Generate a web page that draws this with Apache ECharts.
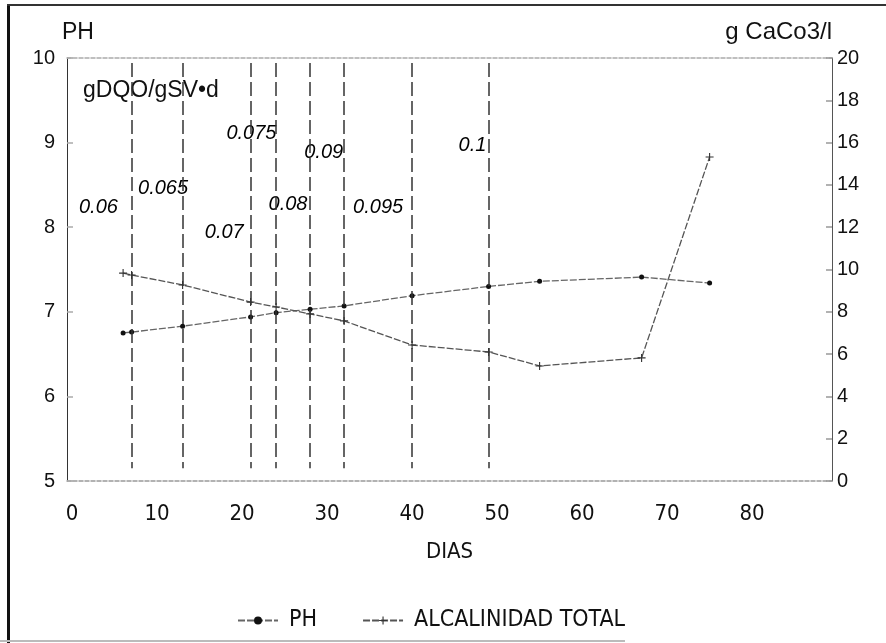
<!DOCTYPE html>
<html>
<head>
<meta charset="utf-8">
<title>PH y alcalinidad total</title>
<script src="https://cdn.jsdelivr.net/npm/echarts@6/dist/echarts.min.js"></script>
<style>
  html, body { margin: 0; padding: 0; background: #fff; }
  #chart { width: 886px; height: 643px; }
</style>
</head>
<body>
<div id="chart"></div>
<script>
// Días de muestreo y mediciones
const dias = [6, 7, 13, 21, 24, 28, 32, 40, 49, 55, 67, 75];
const ph = [6.75, 6.76, 6.83, 6.94, 6.99, 7.03, 7.07, 7.19, 7.30, 7.36, 7.41, 7.34];
const alcalinidad = [9.83, 9.74, 9.27, 8.46, 8.23, 7.90, 7.57, 6.43, 6.10, 5.44, 5.82, 15.32];

// Días en que cambia la carga orgánica (gDQO/gSV·d) y etiquetas de cada tramo
const cambiosCarga = [7, 13, 21, 24, 28, 32, 40, 49];
const cargas = ['0.06', '0.065', '0.07', '0.075', '0.08', '0.09', '0.095', '0.1'];
const cargaDia = [3.1, 10.7, 17.9, 21.1, 25.4, 29.6, 36.0, 47.1];
const cargaPH = [8.23, 8.46, 7.94, 9.11, 8.27, 8.88, 8.23, 8.97];

// Marcas del eje de días
const diasTicks = [0, 10, 20, 30, 40, 50, 60, 70, 80];

const SANS = "'Liberation Sans', Arial, Helvetica, sans-serif";
const NARROW = "'Liberation Sans Narrow', 'DejaVu Sans Condensed', 'Liberation Sans', sans-serif";
const PLUS = 'path://M-0.14,-1H0.14V-0.14H1V0.14H0.14V1H-0.14V0.14H-1V-0.14H-0.14Z';

const chart = echarts.init(document.getElementById('chart'), null, { renderer: 'canvas' });

chart.setOption({
  backgroundColor: '#ffffff',
  animation: false,
  grid: { left: 67, right: 54, top: 58, bottom: 162, containLabel: false },
  graphic: [
    { type: 'rect', shape: { x: 7, y: 4, width: 3, height: 639 }, style: { fill: '#111' }, silent: true },
    { type: 'rect', shape: { x: 7, y: 4, width: 879, height: 2 }, style: { fill: '#333' }, silent: true },
    { type: 'rect', shape: { x: 0, y: 640, width: 625, height: 2 }, style: { fill: '#bbb' }, silent: true },
    {
      type: 'text', left: 83, top: 79, silent: true,
      style: { text: 'gDQO/gSV\u2022d', font: '23px ' + SANS, fill: '#111' }
    }
  ],
  legend: {
    data: ['PH', 'ALCALINIDAD TOTAL'],
    left: 232,
    top: 604,
    itemWidth: 40,
    itemHeight: 10,
    itemGap: 45,
    textStyle: { fontFamily: NARROW, fontSize: 23, color: '#111', padding: [0, 0, 0, 6] }
  },
  xAxis: [
    {
      type: 'value',
      min: -0.6,
      max: 89.4,
      name: 'DIAS',
      nameLocation: 'middle',
      nameGap: 60,
      nameTextStyle: { fontFamily: NARROW, fontSize: 22, color: '#111' },
      axisLine: { show: true, onZero: false, lineStyle: { color: '#999', width: 1.5, type: [4, 2] } },
      axisTick: { show: false },
      axisLabel: {
        customValues: diasTicks,
        margin: 22,
        fontFamily: NARROW,
        fontSize: 22,
        color: '#111'
      },
      splitLine: { show: false }
    },
    {
      type: 'value',
      position: 'top',
      min: -0.6,
      max: 89.4,
      axisLine: { show: true, onZero: false, lineStyle: { color: '#aaa', width: 1.5, type: [4, 2] } },
      axisTick: { show: false },
      axisLabel: { show: false },
      splitLine: { show: false }
    }
  ],
  yAxis: [
    {
      type: 'value',
      min: 5,
      max: 10,
      interval: 1,
      name: 'PH',
      nameLocation: 'end',
      nameGap: 14,
      nameTextStyle: { fontFamily: SANS, fontSize: 23, color: '#111', align: 'left', padding: [0, 0, 0, -5] },
      axisLine: { show: true, onZero: false, lineStyle: { color: '#333', width: 1 } },
      axisTick: { show: true, inside: true, length: 6, lineStyle: { color: '#aaa', width: 1.5 } },
      axisLabel: { margin: 12, fontFamily: SANS, fontSize: 20, color: '#111' },
      splitLine: { show: false }
    },
    {
      type: 'value',
      min: 0,
      max: 20,
      interval: 2,
      position: 'right',
      name: 'g CaCo3/l',
      nameLocation: 'end',
      nameGap: 14,
      nameTextStyle: { fontFamily: SANS, fontSize: 24, color: '#111', align: 'right' },
      axisLine: { show: true, onZero: false, lineStyle: { color: '#555', width: 1 } },
      axisTick: { show: true, inside: true, length: 6, lineStyle: { color: '#999', width: 1.5 } },
      axisLabel: { margin: 5, fontFamily: SANS, fontSize: 20, color: '#111' },
      splitLine: { show: false }
    }
  ],
  series: [
    {
      name: 'PH',
      type: 'line',
      xAxisIndex: 0,
      yAxisIndex: 0,
      data: dias.map((d, i) => [d, ph[i]]),
      symbol: 'circle',
      symbolSize: 5,
      itemStyle: { color: '#111' },
      lineStyle: { color: '#666', width: 1.3, type: [7, 2] },
      silent: true,
      z: 3
    },
    {
      name: 'ALCALINIDAD TOTAL',
      type: 'line',
      xAxisIndex: 0,
      yAxisIndex: 1,
      data: dias.map((d, i) => [d, alcalinidad[i]]),
      symbol: PLUS,
      symbolSize: 8,
      itemStyle: { color: '#333' },
      lineStyle: { color: '#555', width: 1.3, type: [7, 2] },
      silent: true,
      z: 3
    },
    {
      name: 'carga',
      type: 'scatter',
      xAxisIndex: 0,
      yAxisIndex: 0,
      symbolSize: 0,
      silent: true,
      data: cargas.map((c, i) => ({ name: c, value: [cargaDia[i], cargaPH[i]] })),
      label: {
        show: true,
        position: 'inside',
        formatter: p => p.name,
        fontFamily: SANS,
        fontStyle: 'italic',
        fontSize: 20,
        color: '#000',
        opacity: 1,
        textBorderWidth: 0
      },
      markLine: {
        silent: true,
        symbol: ['none', 'none'],
        label: { show: false },
        lineStyle: { color: '#333', width: 1.5, type: [14, 5] },
        data: cambiosCarga.map(d => [{ coord: [d, 9.94] }, { coord: [d, 5.15] }])
      },
      z: 2
    }
  ]
});
</script>
</body>
</html>
